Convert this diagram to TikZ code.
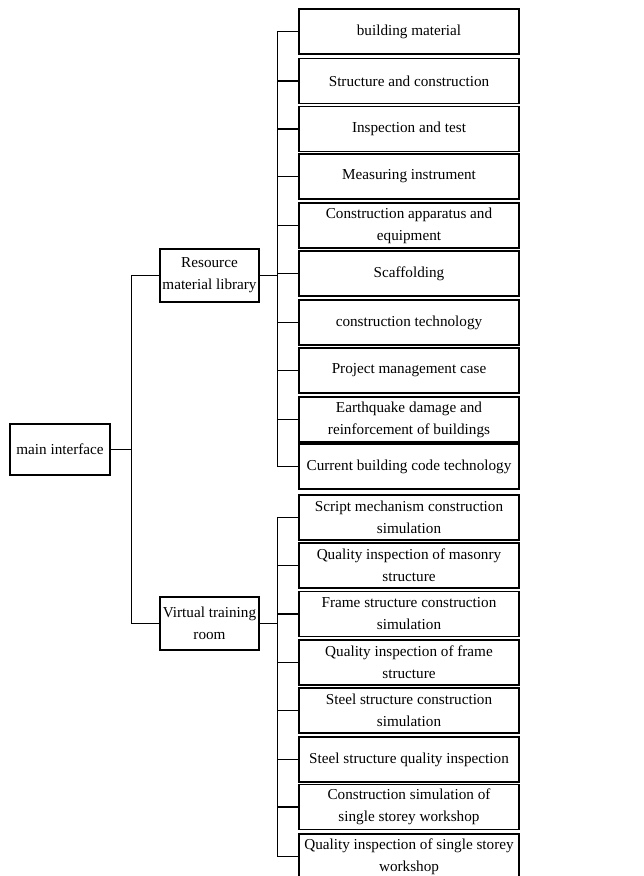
\documentclass[tikz,border=0pt]{standalone}
\usepackage{fontspec}
\setmainfont{Liberation Serif}
\begin{document}
\begin{tikzpicture}[x=1pt,y=-1pt,
  every node/.style={font=\fontsize{15.2}{22}\selectfont},
  leaf/.style={draw, line width=1.1pt, rectangle, minimum width=220pt, minimum height=45pt, inner sep=0pt, align=center},
  mid/.style={draw, line width=1.1pt, rectangle, minimum width=99pt, minimum height=53pt, inner sep=0pt, align=center},
  link/.style={line width=1.1pt}]
\useasboundingbox (0,0) rectangle (643,876);
\node[mid, minimum width=100pt, minimum height=51pt] (main) at (60,449.5) {main interface};
\node[mid] (res) at (209.5,275.5) {Resource\\material library};
\node[mid] (vir) at (209.5,623.5) {Virtual training\\room};
% top group
\node[leaf] (a1) at (409,31.5) {building material};
\node[leaf] (a2) at (409,81) {Structure and construction};
\node[leaf] (a3) at (409,129) {Inspection and test};
\node[leaf] (a4) at (409,176.5) {Measuring instrument};
\node[leaf] (a5) at (409,225.5) {Construction apparatus and\\equipment};
\node[leaf] (a6) at (409,273.5) {Scaffolding};
\node[leaf] (a7) at (409,322.5) {construction technology};
\node[leaf] (a8) at (409,370.5) {Project management case};
\node[leaf] (a9) at (409,419.5) {Earthquake damage and\\reinforcement of buildings};
\node[leaf] (a10) at (409,466.5) {Current building code technology};
% bottom group
\node[leaf] (b1) at (409,517.5) {Script mechanism construction\\simulation};
\node[leaf] (b2) at (409,565.5) {Quality inspection of masonry\\structure};
\node[leaf] (b3) at (409,614) {Frame structure construction\\simulation};
\node[leaf] (b4) at (409,662.5) {Quality inspection of frame\\structure};
\node[leaf] (b5) at (409,710.5) {Steel structure construction\\simulation};
\node[leaf] (b6) at (409,759.5) {Steel structure quality inspection};
\node[leaf] (b7) at (409,807) {Construction simulation of\\single storey workshop};
\node[leaf] (b8) at (409,856.5) {Quality inspection of single storey\\workshop};
% connectors
\draw[link] (res.west) -- ++(-28,0) |- (main.east);
\draw[link] (vir.west) -- ++(-28,0) |- (main.east);
\foreach \n in {a1,a2,a3,a4,a5,a6,a7,a8,a9,a10}
  \draw[link] (\n.west) -- ++(-21,0) |- (res.east);
\foreach \n in {b1,b2,b3,b4,b5,b6,b7,b8}
  \draw[link] (\n.west) -- ++(-21,0) |- (vir.east);
\end{tikzpicture}
\end{document}
